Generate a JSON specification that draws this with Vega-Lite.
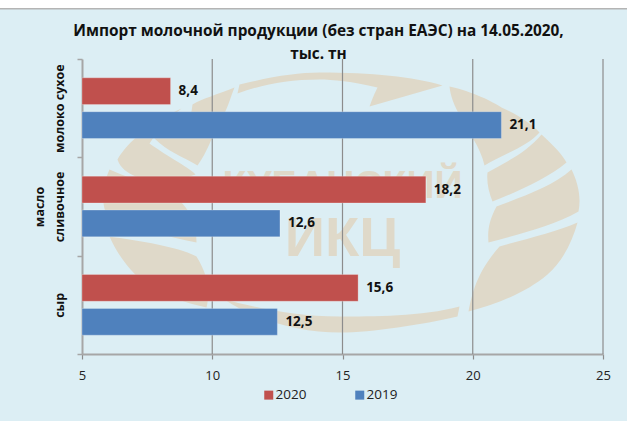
{"$schema":"https://vega.github.io/schema/vega-lite/v6.json","width":521,"height":295,"autosize":"none","padding":{"left":82,"top":59,"right":24,"bottom":67},"background":"#DCEEF4","title":{"text":["Импорт молочной продукции (без стран ЕАЭС) на 14.05.2020,","тыс. тн"],"font":"Open Sans","fontSize":15.4,"fontWeight":"bold","color":"#111111","lineHeight":23,"anchor":"middle","dx":-24,"offset":0,"dy":66},"config":{"view":{"stroke":null},"font":"Open Sans"},"data":{"values":[{"product":"молоко сухое","year":"2020","value":8.4,"label":"8,4"},{"product":"молоко сухое","year":"2019","value":21.1,"label":"21,1"},{"product":"масло сливочное","year":"2020","value":18.2,"label":"18,2"},{"product":"масло сливочное","year":"2019","value":12.6,"label":"12,6"},{"product":"сыр","year":"2020","value":15.6,"label":"15,6"},{"product":"сыр","year":"2019","value":12.5,"label":"12,5"}]},"layer":[{"data":{"values":[{"a":1,"b":27,"c":117,"d":121}]},"mark":{"type":"rect","fill":"#FFFFFF","stroke":"#B4B4B4","strokeWidth":1.5},"encoding":{"x":{"field":"a","type":"quantitative","scale":{"domain":[5,25]},"title":null},"x2":{"field":"b"},"y":{"field":"c","type":"quantitative","scale":{"domain":[0,100]},"axis":null},"y2":{"field":"d"}}},{"data":{"values":[{"name":"logo","a":15,"b":50}]},"mark":{"type":"point","filled":true,"fill":"#DFD9C9","opacity":1,"size":4,"strokeWidth":0,"shape":"M-105,-113 L-103,-122 C-70,-130 -45,-134 -23,-134 C30,-134 70,-130 100,-121 L27,-100 C30,-108 32,-113 35,-119 C10,-125 -10,-127 -23,-127 C-55,-127 -80,-122 -105,-113Z M-118,93 C-85,115 -40,126 -3,126 C30,126 80,118 115,110 L117,100 C80,110 30,110 -3,110 C-50,110 -90,100 -118,93Z M107,-120 C130,-115 150,-105 159,-99 C175,-92 190,-82 197,-74 C185,-60 160,-52 142,-41 C138,-60 125,-75 118,-90 C112,-100 108,-110 107,-120Z M199,-72 C210,-62 220,-52 224,-44 C205,-28 175,-15 150,-5 C146,-15 144,-25 145,-34 C165,-45 185,-55 199,-72Z M229,-37 C235,-25 239,-10 236,5 C210,20 175,28 146,36 C145,25 146,15 154,0 C180,-10 210,-20 229,-37Z M235,16 C230,35 220,55 205,68 C185,85 155,98 126,105 C130,85 135,65 157,40 C185,32 215,25 235,16Z M-108,-119 C-125,-112 -140,-108 -150,-102 L-151,-95 L-188,-68 C-175,-55 -160,-50 -145,-41 C-135,-55 -130,-70 -125,-82 C-115,-95 -112,-110 -108,-119Z M-161,-98 C-190,-85 -215,-65 -225,-47 C-222,-38 -215,-34 -207,-30 C-185,-25 -165,-25 -147,-32 C-150,-37 -175,-50 -193,-63 C-185,-75 -175,-88 -161,-98Z M-233,-37 C-243,-15 -240,5 -232,15 C-205,22 -175,30 -146,36 C-146,20 -150,8 -161,-4 C-175,-15 -205,-25 -233,-37Z M-233,30 C-222,55 -205,72 -193,80 C-175,90 -155,97 -136,101 C-132,85 -134,70 -146,50 C-165,40 -200,35 -233,30Z"},"encoding":{"x":{"field":"a","type":"quantitative","scale":{"domain":[5,25]},"title":null},"y":{"field":"b","type":"quantitative","scale":{"domain":[0,100]},"axis":null}}},{"data":{"values":[{"t":"КУБАНСКИЙ","a":15,"b":57}]},"mark":{"type":"text","font":"Liberation Sans","fontWeight":"bold","fontSize":39,"color":"#DFD9C9","align":"center","baseline":"middle"},"encoding":{"text":{"field":"t"},"x":{"field":"a","type":"quantitative","scale":{"domain":[5,25]},"title":null},"y":{"field":"b","type":"quantitative","scale":{"domain":[0,100]},"axis":null}}},{"data":{"values":[{"t":"ИКЦ","a":15,"b":39}]},"mark":{"type":"text","font":"Liberation Sans","fontWeight":"bold","fontSize":56,"color":"#DFD9C9","align":"center","baseline":"middle"},"encoding":{"text":{"field":"t"},"x":{"field":"a","type":"quantitative","scale":{"domain":[5,25]},"title":null},"y":{"field":"b","type":"quantitative","scale":{"domain":[0,100]},"axis":null}}},{"data":{"values":[{"tick":10},{"tick":15},{"tick":20},{"tick":25}]},"mark":{"type":"rule","color":"#8C8C8C","strokeWidth":1.2},"encoding":{"x":{"field":"tick","type":"quantitative","scale":{"domain":[5,25]},"title":null}}},{"mark":{"type":"bar","stroke":"#FFFFFF","strokeOpacity":0.25,"strokeWidth":1},"encoding":{"y":{"field":"product","type":"nominal","scale":{"domain":["молоко сухое","масло сливочное","сыр"],"paddingInner":0,"paddingOuter":0},"axis":{"title":null,"tickBand":"extent","domainColor":"#A6A6A6","domainWidth":2,"tickColor":"#A6A6A6","tickSize":5,"tickWidth":1.5,"labelAngle":-90,"labelAlign":"center","labelBaseline":"bottom","labelFont":"Open Sans","labelFontWeight":"bold","labelFontSize":12.5,"labelColor":"#111111","labelPadding":31,"labelLineHeight":20,"labelOverlap":false,"labelLimit":0,"labelExpr":"datum.label == 'масло сливочное' ? ['масло','сливочное'] : ['', datum.label]"}},"yOffset":{"field":"year","type":"nominal","scale":{"domain":["2020","2019"],"paddingInner":0.21,"paddingOuter":0.555}},"x":{"field":"value","type":"quantitative","scale":{"domain":[5,25]},"axis":{"title":null,"values":[5,10,15,20,25],"grid":false,"labelFlush":false,"domainColor":"#A6A6A6","domainWidth":2,"tickColor":"#8C8C8C","tickSize":5,"tickWidth":1.2,"labelFont":"Open Sans","labelFontSize":13,"labelColor":"#222222","labelPadding":10}},"x2":{"datum":5},"color":{"field":"year","type":"nominal","scale":{"domain":["2020","2019"],"range":["#C0504D","#4F81BD"]},"legend":{"title":null,"orient":"none","direction":"horizontal","legendX":180,"legendY":329,"symbolType":"square","symbolSize":81,"symbolStrokeWidth":0,"labelFont":"Open Sans","labelFontSize":13.5,"labelColor":"#222222","labelOffset":0,"columnPadding":46,"columns":2}}}},{"mark":{"type":"text","align":"left","baseline":"middle","dx":8,"font":"Open Sans","fontWeight":"bold","fontSize":13.5,"color":"#111111"},"encoding":{"y":{"field":"product","type":"nominal","scale":{"domain":["молоко сухое","масло сливочное","сыр"],"paddingInner":0,"paddingOuter":0},"axis":null},"yOffset":{"field":"year","type":"nominal","scale":{"domain":["2020","2019"],"paddingInner":0.21,"paddingOuter":0.555}},"x":{"field":"value","type":"quantitative","scale":{"domain":[5,25]},"title":null},"text":{"field":"label"}}}],"resolve":{"scale":{"y":"independent"}}}
